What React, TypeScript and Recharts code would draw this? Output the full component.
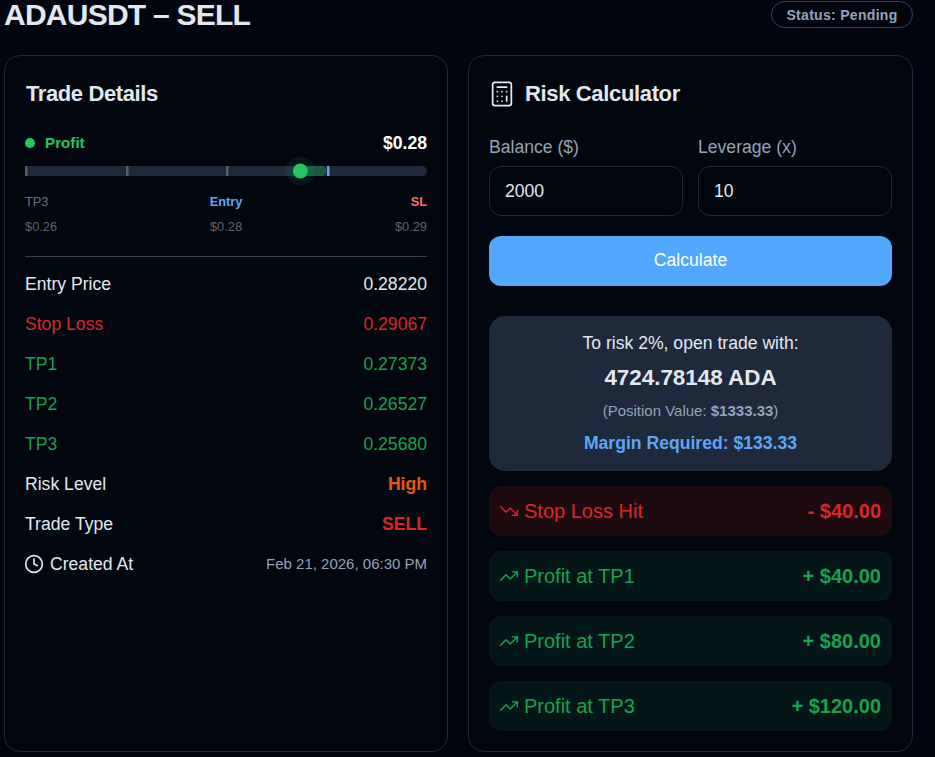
import { ComposedChart, Bar, XAxis, YAxis, ReferenceDot } from "recharts";

const levelNames = ["TP3", "TP2", "TP1", "Entry", "SL"];
const levelPrices = [0.2568, 0.26527, 0.27373, 0.2822, 0.29067];
const currentPrice = 0.28;

const detailLabels = ["Entry Price", "Stop Loss", "TP1", "TP2", "TP3", "Risk Level", "Trade Type"];
const detailValues = ["0.28220", "0.29067", "0.27373", "0.26527", "0.25680", "High", "SELL"];

const outcomeLabels = ["Stop Loss Hit", "Profit at TP1", "Profit at TP2", "Profit at TP3"];
const outcomeValues = ["- $40.00", "+ $40.00", "+ $80.00", "+ $120.00"];

const track = [
  {
    row: "price",
    range: [levelPrices[0], levelPrices[4]],
    moved: [currentPrice, levelPrices[3]],
  },
];

const RED = "#dc2626";
const GREEN = "#16a34a";
const LIGHT = "#e2e8f0";
const MUTED = "#94a3b8";
const BORDER = "#1e293b";

function Txt({ x, right, center, y, size = 17.6, bold, color = LIGHT, h = 24, children, spacing }: any) {
  const style: any = {
    position: "absolute",
    top: y - h / 2,
    height: h,
    lineHeight: h + "px",
    fontSize: size,
    fontWeight: bold ? 700 : 400,
    color,
    whiteSpace: "nowrap",
    letterSpacing: spacing,
  };
  if (x !== undefined) style.left = x;
  if (right !== undefined) style.right = 935 - right;
  if (center !== undefined) {
    style.left = center - 200;
    style.width = 400;
    style.textAlign = "center";
  }
  return <div style={style}>{children}</div>;
}

function Box({ x, y, w, h, r, bg, border }: any) {
  return (
    <div
      style={{
        position: "absolute",
        left: x,
        top: y,
        width: w,
        height: h,
        borderRadius: r,
        background: bg,
        border: border ? "1px solid " + border : undefined,
        boxSizing: "border-box",
      }}
    />
  );
}

function Icon({ x, y, size, color, w = 2, children }: any) {
  return (
    <svg
      style={{ position: "absolute", left: x, top: y }}
      width={size}
      height={size}
      viewBox="0 0 24 24"
      fill="none"
      stroke={color}
      strokeWidth={w}
      strokeLinecap="round"
      strokeLinejoin="round"
    >
      {children}
    </svg>
  );
}

function Tick({ cx, cy, color }: any) {
  return <rect x={Math.ceil(cx)} y={cy - 5} width={2.5} height={10} fill={color} />;
}

function PriceDot({ cx, cy }: any) {
  return (
    <g>
      <circle cx={cx} cy={cy} r={14.5} fill="#22c55e" fillOpacity={0.1} />
      <circle cx={cx} cy={cy} r={7.5} fill="#22c55e" />
    </g>
  );
}

function PriceTrack() {
  return (
    <div style={{ position: "absolute", left: 25, top: 156 }}>
      <ComposedChart
        width={402}
        height={30}
        layout="vertical"
        data={track}
        margin={{ top: 0, right: 0, bottom: 0, left: 0 }}
        barGap={-10}
      >
        <XAxis type="number" hide domain={[levelPrices[0], levelPrices[4]]} />
        <YAxis type="category" hide dataKey="row" />
        <Bar dataKey="range" barSize={10} fill="#1e293b" radius={5} isAnimationActive={false} />
        <Bar dataKey="moved" barSize={10} fill="#22c55e" fillOpacity={0.3} radius={[0, 5, 5, 0]} isAnimationActive={false} />
        {levelPrices.slice(0, 4).map((p, i) => (
          <ReferenceDot
            key={levelNames[i]}
            x={p}
            y="price"
            shape={(props: any) => <Tick {...props} color={i === 3 ? "#60a5fa" : "#565e6b"} />}
          />
        ))}
        <ReferenceDot x={currentPrice} y="price" shape={(props: any) => <PriceDot {...props} />} />
      </ComposedChart>
    </div>
  );
}

export default function App() {
  const rowColor = (i: number) => (i === 0 || i >= 5 ? LIGHT : i === 1 ? RED : GREEN);
  const valueColor = (i: number) =>
    i === 0 ? LIGHT : i === 1 || i === 6 ? RED : i === 5 ? "#ea580c" : GREEN;

  return (
    <div
      style={{
        position: "absolute",
        left: 0,
        top: 0,
        width: 935,
        height: 757,
        overflow: "hidden",
        background: "#020510",
        fontFamily: "'Liberation Sans', Arial, sans-serif",
      }}
    >
      <Txt x={4} y={15} size={30} bold h={30} color={LIGHT} spacing={-0.75}>
        ADAUSDT – SELL
      </Txt>
      <Box x={771} y={1} w={142} h={27} r={14} border="#334155" />
      <Txt center={842} y={15} size={14} bold color={MUTED} spacing={0.3}>
        Status: Pending
      </Txt>

      {/* trade details */}
      <Box x={4} y={55} w={444} h={697} r={16} bg="#02060f" border={BORDER} />
      <Txt x={26} y={93.5} size={22} bold spacing={-0.4}>
        Trade Details
      </Txt>
      <div style={{ position: "absolute", left: 25, top: 138, width: 10, height: 10, borderRadius: 5, background: "#22c55e" }} />
      <Txt x={45} y={143} size={15.2} bold color="#22c55e">
        Profit
      </Txt>
      <Txt right={427} y={143} size={17.6} bold color="#ffffff">
        $0.28
      </Txt>

      <PriceTrack />

      <Txt x={25} y={202} size={12.8} color="#6b7280">{levelNames[0]}</Txt>
      <Txt center={226} y={202} size={12.8} bold color="#60a5fa">{levelNames[3]}</Txt>
      <Txt right={427} y={202} size={12.8} bold color="#f87171">{levelNames[4]}</Txt>
      <Txt x={25} y={227} size={12.8} color="#5b6472">${levelPrices[0].toFixed(2)}</Txt>
      <Txt center={226} y={227} size={12.8} color="#5b6472">${levelPrices[3].toFixed(2)}</Txt>
      <Txt right={427} y={227} size={12.8} color="#5b6472">${levelPrices[4].toFixed(2)}</Txt>
      <div style={{ position: "absolute", left: 25, top: 256, width: 402, height: 1, background: "#334155" }} />

      {detailLabels.map((label, i) => (
        <div key={label}>
          <Txt x={25} y={284 + i * 40} color={rowColor(i)}>{label}</Txt>
          <Txt right={427} y={284 + i * 40} bold={i >= 5} color={valueColor(i)}>{detailValues[i]}</Txt>
        </div>
      ))}
      <Icon x={24} y={554} size={20} color={LIGHT}>
        <circle cx="12" cy="12" r="10" />
        <path d="M12 6v6l4 2" />
      </Icon>
      <Txt x={50} y={564}>Created At</Txt>
      <Txt right={427} y={564} size={15} color={MUTED}>Feb 21, 2026, 06:30 PM</Txt>

      {/* risk calculator */}
      <Box x={468} y={55} w={445} h={697} r={16} bg="#02060f" border={BORDER} />
      <Icon x={487.5} y={79.5} size={28} color={LIGHT} w={1.5}>
        <rect x="4" y="2" width="16" height="20" rx="2" />
        <path d="M8 6h8M16 14v4M16 10h.01M12 10h.01M8 10h.01M12 14h.01M8 14h.01M12 18h.01M8 18h.01" />
      </Icon>
      <Txt x={525} y={93.5} size={22} bold spacing={-0.35}>
        Risk Calculator
      </Txt>

      <Txt x={489} y={147} color={MUTED}>Balance ($)</Txt>
      <Txt x={698} y={147} color={MUTED}>Leverage (x)</Txt>
      <Box x={489} y={166} w={194} h={50} r={12} border={BORDER} />
      <Box x={698} y={166} w={194} h={50} r={12} border={BORDER} />
      <Txt x={505} y={190.5}>2000</Txt>
      <Txt x={714} y={190.5}>10</Txt>

      <Box x={489} y={236} w={403} h={50} r={12} bg="#52a8ff" />
      <Txt center={690.5} y={260} color="#ffffff">Calculate</Txt>

      <Box x={489} y={316} w={403} h={155} r={16} bg="#1e293b" />
      <Txt center={690.5} y={343}>To risk 2%, open trade with:</Txt>
      <Txt center={690.5} y={378} size={22.4} bold>4724.78148 ADA</Txt>
      <Txt center={690.5} y={411} size={15} color={MUTED}>
        (Position Value: <b>$1333.33</b>)
      </Txt>
      <Txt center={690.5} y={443} bold color="#60a5fa">Margin Required: $133.33</Txt>

      {outcomeLabels.map((label, i) => {
        const color = i === 0 ? RED : GREEN;
        const top = 486 + i * 65;
        return (
          <div key={label}>
            <Box x={489} y={top} w={403} h={50} r={12} bg={i === 0 ? "#1d0b10" : "#051619"} />
            <Icon x={498.5} y={top + 15} size={20} color={color} w={1.7}>
              {i === 0 ? (
                <path d="M22 17l-8.5-8.5-5 5L2 7M16 17h6v-6" />
              ) : (
                <path d="M22 7l-8.5 8.5-5-5L2 17M16 7h6v6" />
              )}
            </Icon>
            <Txt x={524} y={top + 25} size={20} color={color}>{label}</Txt>
            <Txt right={881} y={top + 25} size={20} bold color={color}>{outcomeValues[i]}</Txt>
          </div>
        );
      })}
    </div>
  );
}
